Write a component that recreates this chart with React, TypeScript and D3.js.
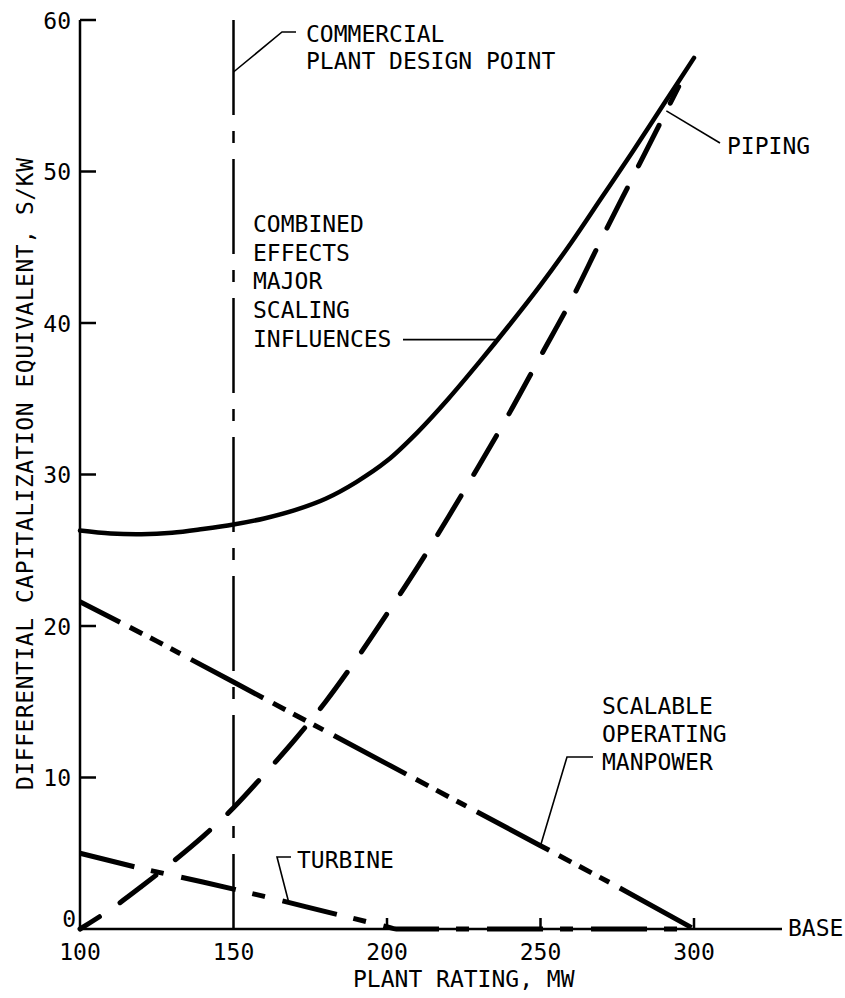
import React from "react";
import * as d3 from "d3";

// Plant rating (MW) tick values and cost ticks ($/kW)
const ratingTicks = [100, 150, 200, 250, 300];
const costTicks = [0, 10, 20, 30, 40, 50, 60];

// Combined effects of the major scaling influences
const combined: [number, number][] = [
  [100, 26.3], [110, 26.1], [120, 26.05], [130, 26.15], [140, 26.4],
  [150, 26.7], [160, 27.1], [170, 27.65], [180, 28.4], [190, 29.5],
  [200, 30.9], [210, 32.8], [220, 35.0], [230, 37.4], [240, 39.9],
  [250, 42.5], [260, 45.3], [270, 48.3], [280, 51.3], [290, 54.4],
  [300, 57.5],
];

// Piping
const piping: [number, number][] = [
  [100, 0], [110, 1.3], [120, 2.8], [130, 4.4], [140, 6.1], [150, 8.0],
  [160, 10.2], [170, 12.5], [180, 15.0], [190, 17.8], [200, 20.8],
  [210, 23.9], [220, 27.2], [230, 30.6], [240, 34.1], [250, 37.8],
  [260, 41.5], [270, 45.6], [280, 49.6], [290, 53.6], [295, 55.6],
];

// Scalable operating manpower
const manpower: [number, number][] = [
  [100, 21.6], [125, 19.0], [150, 16.3], [175, 13.6], [200, 10.9],
  [225, 8.2], [250, 5.5], [275, 2.8], [300, 0],
];

// Turbine
const turbine: [number, number][] = [
  [100, 5.0], [120, 4.0], [140, 3.1], [160, 2.15], [180, 1.15],
  [200, 0.15], [203, 0], [297, 0],
];

const designPoint = 150;

const FONT = "'DejaVu Sans Mono', monospace";
const FS = 23;

function valueAt(series: [number, number][], mw: number): number {
  for (let i = 1; i < series.length; i++) {
    const [x0, y0] = series[i - 1];
    const [x1, y1] = series[i];
    if (mw >= x0 && mw <= x1) return y0 + ((mw - x0) / (x1 - x0)) * (y1 - y0);
  }
  return series[series.length - 1][1];
}

export default function App() {
  const x = d3.scaleLinear().domain([100, 300]).range([80, 694]);
  const y = d3.scaleLinear().domain([0, 60]).range([929, 20]);

  const smooth = d3
    .line<[number, number]>()
    .x((d) => x(d[0]))
    .y((d) => y(d[1]))
    .curve(d3.curveCatmullRom.alpha(0.5));
  const monotone = d3
    .line<[number, number]>()
    .x((d) => x(d[0]))
    .y((d) => y(d[1]))
    .curve(d3.curveMonotoneX);
  const straight = d3
    .line<[number, number]>()
    .x((d) => x(d[0]))
    .y((d) => y(d[1]));

  const x0 = x(100);
  const y0 = y(0);

  const textProps = { fontFamily: FONT, fontSize: FS, fill: "#000" };

  // leader anchors on the curves
  const cA: [number, number] = [x(236), y(valueAt(combined, 236))];
  const pA: [number, number] = [x(291), y(valueAt(piping, 291))];
  const tA: [number, number] = [x(168), y(valueAt(turbine, 168))];
  const mA: [number, number] = [x(250), y(valueAt(manpower, 250))];

  return (
    <svg
      width={845}
      height={998}
      viewBox="0 0 845 998"
      style={{ position: "absolute", left: 0, top: 0, background: "#fff" }}
    >
      <rect width={845} height={998} fill="#fff" />

      {/* axes */}
      <line x1={x0} y1={y(60)} x2={x0} y2={y0} stroke="#000" strokeWidth={2.5} />
      <line x1={x0} y1={y0} x2={782} y2={y0} stroke="#000" strokeWidth={2.5} />
      {costTicks
        .filter((v) => v > 0)
        .map((v) => (
          <line key={"yt" + v} x1={x0} x2={x0 + 16} y1={y(v)} y2={y(v)} stroke="#000" strokeWidth={2.5} />
        ))}
      {costTicks.map((v) => (
        <text
          key={"yl" + v}
          x={v === 0 ? x0 - 4 : x0 - 9}
          y={v === 0 ? y0 - 2 : y(v) + 8.5}
          textAnchor="end"
          {...textProps}
        >
          {v}
        </text>
      ))}
      {ratingTicks
        .filter((v) => v > designPoint)
        .map((v) => (
          <line key={"xt" + v} x1={x(v)} x2={x(v)} y1={y0} y2={y0 - 11} stroke="#000" strokeWidth={2.5} />
        ))}
      {ratingTicks.map((v) => (
        <text key={"xl" + v} x={x(v)} y={960} textAnchor="middle" {...textProps}>
          {v}
        </text>
      ))}
      <text x={788} y={936} {...textProps}>BASE</text>
      <text x={353} y={987} {...textProps}>PLANT RATING, MW</text>
      <text
        transform="translate(33,474) rotate(-90)"
        textAnchor="middle"
        textLength={632}
        lengthAdjust="spacing"
        {...textProps}
      >
        DIFFERENTIAL CAPITALIZATION EQUIVALENT, S/KW
      </text>

      {/* commercial plant design point */}
      <line
        x1={x(designPoint)}
        x2={x(designPoint)}
        y1={y(60)}
        y2={y0}
        stroke="#000"
        strokeWidth={2.5}
        strokeDasharray="95 16 12 16"
      />
      <polyline
        points={`${x(designPoint)},72 282,32 296,32`}
        fill="none"
        stroke="#000"
        strokeWidth={1.6}
      />
      <text x={306} y={42} {...textProps}>COMMERCIAL</text>
      <text x={306} y={69} {...textProps}>PLANT DESIGN POINT</text>

      {/* curves */}
      <path d={smooth(combined) ?? ""} fill="none" stroke="#000" strokeWidth={4.5} strokeLinecap="round" />
      <path
        d={smooth(piping) ?? ""}
        fill="none"
        stroke="#000"
        strokeWidth={5}
        strokeLinecap="round"
        strokeDasharray="45 25"
        strokeDashoffset={22}
      />
      <path
        d={straight(manpower) ?? ""}
        fill="none"
        stroke="#000"
        strokeWidth={5}
        strokeDasharray="82 11 14 9 14 9 11 12"
        strokeDashoffset={37}
      />
      <path
        d={monotone(turbine) ?? ""}
        fill="none"
        stroke="#000"
        strokeWidth={5}
        strokeDasharray="56 17 13 18"
      />

      {/* combined label */}
      {["COMBINED", "EFFECTS", "MAJOR", "SCALING", "INFLUENCES"].map((t, i) => (
        <text key={t} x={253} y={232 + i * 28.7} {...textProps}>
          {t}
        </text>
      ))}
      <line x1={403} y1={cA[1]} x2={cA[0]} y2={cA[1]} stroke="#000" strokeWidth={1.6} />

      {/* piping label */}
      <polyline points={`${pA[0]},${pA[1]} 720,143`} fill="none" stroke="#000" strokeWidth={1.6} />
      <text x={727} y={154} {...textProps}>PIPING</text>

      {/* turbine label */}
      <polyline
        points={`${tA[0]},${tA[1]} 277,857 291,857`}
        fill="none"
        stroke="#000"
        strokeWidth={1.6}
      />
      <text x={297} y={868} {...textProps}>TURBINE</text>

      {/* manpower label */}
      <polyline
        points={`${mA[0]},${mA[1]} 567,757 593,757`}
        fill="none"
        stroke="#000"
        strokeWidth={1.6}
      />
      {["SCALABLE", "OPERATING", "MANPOWER"].map((t, i) => (
        <text key={t} x={602} y={714 + i * 28} {...textProps}>
          {t}
        </text>
      ))}
    </svg>
  );
}
